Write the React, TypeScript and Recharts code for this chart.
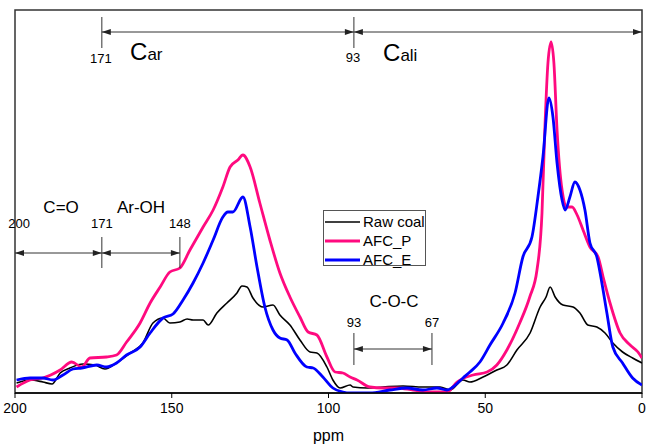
import React from 'react';
import { LineChart, Line, XAxis, YAxis, ReferenceArea, ReferenceLine, ReferenceDot, Legend } from 'recharts';

// [ppm, intensity] pairs
const rawCoal: [number, number][] = [
  [199.5, 10], [195.2, 13], [191.1, 11], [188.2, 9], [185.6, 20], [182.5, 25], [178.3, 29], [174.5, 28],
  [171.3, 24], [167.6, 30], [163.3, 40], [159.2, 50], [156.0, 70], [152.8, 75], [150.6, 70], [147.4, 71],
  [145.1, 74], [143.2, 73], [140.0, 73], [138.4, 68], [135.6, 80], [132.4, 90], [129.2, 100], [127.6, 107],
  [126.0, 106], [124.1, 95], [120.9, 86], [117.7, 88], [115.5, 78], [112.3, 68], [109.1, 53], [105.9, 41],
  [103.7, 40], [100.5, 26], [98.6, 13], [96.3, 5], [93.1, 8], [92.2, 6], [87.7, 5], [82.6, 6], [76.2, 7],
  [69.9, 6], [64.4, 6], [61.2, 3], [57.1, 13], [54.9, 11], [50.7, 16], [46.3, 23], [43.1, 28], [39.9, 43],
  [35.7, 60], [32.5, 86], [30.6, 96], [29.3, 106], [27.7, 96], [25.2, 88], [22.0, 86], [19.8, 80],
  [17.3, 68], [14.4, 66], [11.8, 60], [9.3, 50], [6.2, 41], [3.0, 35], [0, 30],
];

const afcP: [number, number][] = [
  [199.5, 6], [195.2, 13], [191.1, 15], [185.6, 23], [181.9, 31], [178.7, 26], [176.1, 35], [170.8, 36],
  [167.6, 38], [164.4, 51], [160.1, 70], [156.9, 90], [153.7, 106], [150.6, 121], [147.4, 125], [144.2, 143],
  [140.0, 166], [136.8, 183], [133.7, 206], [131.4, 226], [128.9, 233], [127.3, 238], [125.0, 226],
  [121.9, 190], [118.7, 153], [115.5, 120], [112.3, 96], [109.1, 76], [106.5, 61], [103.7, 58], [100.5, 36],
  [97.9, 21], [95.4, 20], [93.1, 16], [90.9, 13], [86.8, 6], [82.6, 5], [78.1, 5], [73.0, 3], [67.6, 1],
  [62.2, 1], [59.0, 11], [53.9, 18], [49.4, 21], [46.3, 28], [43.1, 43], [39.0, 70], [35.8, 96], [33.5, 123],
  [31.9, 180], [31.0, 263], [30.0, 330], [29.0, 351], [28.1, 330], [27.1, 263], [25.5, 203], [23.9, 186],
  [22.3, 186], [20.7, 178], [18.8, 163], [16.6, 146], [14.0, 136], [12.4, 116], [10.2, 90], [7.0, 60],
  [3.8, 48], [1.3, 41], [0, 35],
];

const afcE: [number, number][] = [
  [199.5, 13], [195.2, 15], [191.1, 15], [187.9, 13], [184.7, 18], [181.5, 24], [178.7, 25], [173.9, 28],
  [170.8, 26], [167.6, 30], [164.4, 38], [160.1, 46], [156.9, 60], [152.8, 75], [149.6, 79], [146.4, 93],
  [143.2, 110], [140.0, 130], [136.8, 153], [133.7, 176], [132.1, 181], [130.5, 181], [127.3, 196],
  [125.0, 166], [122.8, 126], [120.3, 86], [117.7, 63], [115.5, 55], [113.2, 53], [110.7, 40], [106.9, 26],
  [104.9, 25], [101.8, 16], [98.6, 5], [95.4, 1], [93.1, 0], [86.8, 0], [80.4, 3], [75.0, 5], [69.9, 3],
  [65.4, 5], [62.2, 3], [60.3, 6], [57.1, 15], [54.9, 21], [51.7, 31], [48.5, 48], [44.3, 70], [40.5, 100],
  [38.0, 136], [35.1, 156], [33.2, 196], [31.6, 236], [29.7, 295], [28.4, 276], [27.1, 230], [25.5, 193],
  [24.5, 183], [23.0, 196], [21.4, 211], [19.8, 203], [18.2, 183], [16.6, 150], [14.4, 136], [12.8, 110],
  [11.2, 80], [9.3, 46], [6.2, 30], [3.0, 15], [0, 8],
];

const xTicks = [0, 50, 100, 150, 200];
const seriesNames = ['Raw coal', 'AFC_P', 'AFC_E'];
const seriesColors = ['#000000', '#FF0A7F', '#0000FF'];
const seriesWidths = [1.6, 2.8, 2.8];

const toData = (arr: [number, number][]) => arr.map(([ppm, v]) => ({ ppm, v }));
const seriesData = [toData(rawCoal), toData(afcP), toData(afcE)];

const FONT = '"Liberation Sans", Arial, sans-serif';
const INK = '#222';

const DimArrow = (p: any) => {
  const { x1, y1, x2, y2 } = p;
  const dir = x2 > x1 ? 1 : -1;
  const L = 9, H = 3;
  return (
    <g>
      <line x1={x1} y1={y1} x2={x2} y2={y2} stroke="#333" strokeWidth={1} />
      <polygon points={`${x1},${y1} ${x1 + dir * L},${y1 - H} ${x1 + dir * L},${y1 + H}`} fill={INK} />
      <polygon points={`${x2},${y2} ${x2 - dir * L},${y2 - H} ${x2 - dir * L},${y2 + H}`} fill={INK} />
    </g>
  );
};

const TickLine = (p: any) => (
  <line x1={p.x1} y1={p.y1} x2={p.x2} y2={p.y2} stroke="#333" strokeWidth={1} />
);

// annotation geometry (ppm, intensity units)
const topY = 361, topTick: [number, number] = [345, 376];
const leftY = 140, leftTick: [number, number] = [125, 156];
const cocY = 44, cocTick: [number, number] = [28, 60];
const p171 = 172.3, p93 = 91.9, p148 = 147.4, p67 = 67.0;

const arrows: { a: number; b: number; y: number }[] = [
  { a: p171, b: p93, y: topY },
  { a: p93, b: 0, y: topY },
  { a: 200, b: p171, y: leftY },
  { a: p171, b: p148, y: leftY },
  { a: p93, b: p67, y: cocY },
];
const ticks: { x: number; r: [number, number] }[] = [
  { x: p171, r: topTick },
  { x: p93, r: topTick },
  { x: p171, r: leftTick },
  { x: p148, r: leftTick },
  { x: p93, r: cocTick },
  { x: p67, r: cocTick },
];
const labels: { t: string; x: number; y: number; fs: number }[] = [
  { t: '171', x: 172.6, y: 330, fs: 13 },
  { t: '93', x: 92.2, y: 331, fs: 13 },
  { t: '200', x: 198.7, y: 165, fs: 13 },
  { t: '171', x: 172.3, y: 165, fs: 13 },
  { t: '148', x: 147.4, y: 165, fs: 13 },
  { t: 'C=O', x: 185.3, y: 180, fs: 17 },
  { t: 'Ar-OH', x: 159.8, y: 180, fs: 17 },
  { t: 'C-O-C', x: 79.1, y: 86, fs: 17 },
  { t: '93', x: 91.9, y: 66, fs: 13 },
  { t: '67', x: 67.0, y: 66, fs: 13 },
];
const subLabels: { main: string; sub: string; x: number; y: number }[] = [
  { main: 'C', sub: 'ar', x: 163.3, y: 333 },
  { main: 'C', sub: 'ali', x: 82.6, y: 332 },
];

const renderLegend = () => (
  <div
    style={{
      position: 'relative', width: 103, height: 56, boxSizing: 'border-box',
      border: '1px solid #555', background: '#fff', fontFamily: FONT, fontSize: 15, color: '#000',
    }}
  >
    {seriesNames.map((n, i) => (
      <div key={n} style={{ position: 'absolute', left: 0, top: 2 + i * 19, height: 18, width: 101 }}>
        <svg width={36} height={18} style={{ position: 'absolute', left: 0, top: 0 }}>
          <line x1={1} y1={9} x2={36} y2={9} stroke={seriesColors[i]} strokeWidth={seriesWidths[i]} />
        </svg>
        <span style={{ position: 'absolute', left: 39, top: 0, lineHeight: '18px', whiteSpace: 'nowrap' }}>{n}</span>
      </div>
    ))}
  </div>
);

export default function App() {
  return (
    <div style={{ position: 'absolute', left: 0, top: 0, width: 648, height: 448, background: '#fff' }}>
      <LineChart width={648} height={448} margin={{ top: 10, right: 6, bottom: 0, left: 15 }} style={{ fontFamily: FONT }}>
        <XAxis
          dataKey="ppm"
          type="number"
          domain={[0, 200]}
          reversed
          ticks={xTicks}
          interval={0}
          height={55}
          tickSize={5}
          tickMargin={5}
          axisLine={{ stroke: '#000', strokeWidth: 1.5 }}
          tickLine={{ stroke: '#000' }}
          tick={{ fill: '#000', fontSize: 14, fontFamily: FONT }}
          allowDataOverflow
          label={{ value: 'ppm', position: 'insideBottom', offset: 7, fill: '#000', fontSize: 16, fontFamily: FONT }}
        />
        <YAxis hide domain={[0, 383]} type="number" allowDataOverflow />
        <ReferenceArea x1={200} x2={0} y1={0} y2={383} fill="none" stroke="#333" strokeWidth={1.5} ifOverflow="visible" />
        {seriesData.map((d, i) => (
          <Line
            key={seriesNames[i]}
            data={d}
            dataKey="v"
            name={seriesNames[i]}
            type="monotone"
            stroke={seriesColors[i]}
            strokeWidth={seriesWidths[i]}
            strokeLinejoin="round"
            dot={false}
            activeDot={false}
            isAnimationActive={false}
          />
        ))}
        {arrows.map((a, i) => (
          <ReferenceLine
            key={'a' + i}
            segment={[{ x: a.a, y: a.y }, { x: a.b, y: a.y }]}
            ifOverflow="visible"
            shape={(p: any) => <DimArrow {...p} />}
          />
        ))}
        {ticks.map((t, i) => (
          <ReferenceLine
            key={'t' + i}
            segment={[{ x: t.x, y: t.r[0] }, { x: t.x, y: t.r[1] }]}
            ifOverflow="visible"
            shape={(p: any) => <TickLine {...p} />}
          />
        ))}
        {labels.map((l, i) => (
          <ReferenceDot
            key={'l' + i}
            x={l.x}
            y={l.y}
            r={0}
            ifOverflow="visible"
            shape={(p: any) => (
              <text x={p.cx} y={p.cy} textAnchor="middle" fontSize={l.fs} fontFamily={FONT} fill="#000">{l.t}</text>
            )}
          />
        ))}
        {subLabels.map((l, i) => (
          <ReferenceDot
            key={'s' + i}
            x={l.x}
            y={l.y}
            r={0}
            ifOverflow="visible"
            shape={(p: any) => (
              <text x={p.cx} y={p.cy} textAnchor="start" fontFamily={FONT} fill="#000">
                <tspan fontSize={24}>{l.main}</tspan>
                <tspan fontSize={17}>{l.sub}</tspan>
              </text>
            )}
          />
        ))}
        <Legend
          layout="vertical"
          align="center"
          verticalAlign="middle"
          content={renderLegend}
          wrapperStyle={{ left: 323, top: 210, width: 103, height: 56, right: 'auto', bottom: 'auto' }}
        />
      </LineChart>
    </div>
  );
}
